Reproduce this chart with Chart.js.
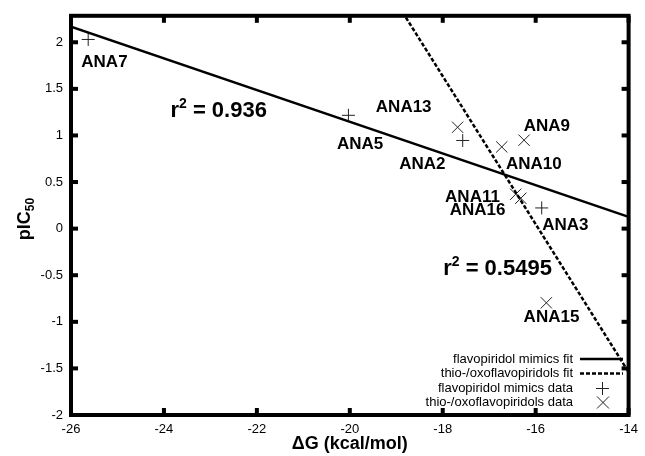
<!DOCTYPE html>
<html>
<head>
<meta charset="utf-8">
<script src="https://cdn.jsdelivr.net/npm/chart.js@4"></script>
<style>
  body { margin: 0; background: #fff; }
</style>
</head>
<body>
<canvas id="chart" width="645" height="456"></canvas>
<script>
// axis ticks
const xTicks = [-26, -24, -22, -20, -18, -16, -14];
const yTicks = [-2, -1.5, -1, -0.5, 0, 0.5, 1, 1.5, 2];

// flavopiridol mimics data (+)
const mimicsX = [-25.63, -20.03, -17.57, -15.87];
const mimicsY = [2.03, 1.216, 0.946, 0.222];

// thio-/oxoflavopiridols data (x)
const thioX = [-17.68, -16.73, -16.25, -16.43, -16.32, -15.77];
const thioY = [1.088, 0.877, 0.949, 0.369, 0.326, -0.796];

// fit lines (end points)
const mimicsFitX = [-26, -14];
const mimicsFitY = [2.167, 0.126];
const thioFitX = [-19, -14];
const thioFitY = [2.43, -1.54];

// compound labels
const labelText = ['ANA7', 'ANA5', 'ANA13', 'ANA2', 'ANA9', 'ANA10', 'ANA11', 'ANA16', 'ANA3', 'ANA15'];
const labelX = [-25.28, -19.78, -18.84, -18.44, -15.76, -16.04, -17.36, -17.25, -15.36, -15.66];
const labelY = [1.79, 0.906, 1.30, 0.69, 1.10, 0.69, 0.34, 0.20, 0.04, -0.95];

// r^2 labels (left aligned)
const r2Text = ['0.936', '0.5495'];
const r2X = [-23.86, -17.99];
const r2Y = [1.28, -0.41];

const legendText = ['flavopiridol mimics fit', 'thio-/oxoflavopiridols fit', 'flavopiridol mimics data', 'thio-/oxoflavopiridols data'];

const FONT = '"Liberation Sans", Arial, Helvetica, sans-serif';

function pts(xs, ys) {
    return xs.map((x, i) => ({ x: x, y: ys[i] }));
}

// everything that is not a dataset: frame, ticks, titles, labels, legend
const decorPlugin = {
    id: 'decor',
    afterDatasetsDraw(chart) {
        const ctx = chart.ctx;
        const a = chart.chartArea;
        const xs = chart.scales.x;
        const ys = chart.scales.y;
        ctx.save();
        ctx.fillStyle = '#000';
        ctx.strokeStyle = '#000';

        // compound labels
        ctx.font = 'bold 17px ' + FONT;
        ctx.textAlign = 'center';
        ctx.textBaseline = 'middle';
        labelText.forEach((t, i) => {
            ctx.fillText(t, xs.getPixelForValue(labelX[i]), ys.getPixelForValue(labelY[i]));
        });

        // r^2 labels
        r2Text.forEach((t, i) => {
            let px = xs.getPixelForValue(r2X[i]);
            const py = ys.getPixelForValue(r2Y[i]) + 8;
            ctx.textAlign = 'left';
            ctx.textBaseline = 'alphabetic';
            ctx.font = 'bold 22px ' + FONT;
            ctx.fillText('r', px, py);
            px += ctx.measureText('r').width;
            ctx.font = 'bold 14px ' + FONT;
            ctx.fillText('2', px, py - 9);
            px += ctx.measureText('2').width;
            ctx.font = 'bold 22px ' + FONT;
            ctx.fillText(' = ' + t, px, py);
        });

        // legend
        ctx.font = '13px ' + FONT;
        ctx.textAlign = 'right';
        ctx.textBaseline = 'middle';
        const rowY = [359, 373.5, 388, 402.5];
        legendText.forEach((t, i) => {
            ctx.fillText(t, 573, rowY[i]);
        });
        ctx.lineWidth = 2.5;
        ctx.beginPath();
        ctx.moveTo(580, rowY[0]);
        ctx.lineTo(623, rowY[0]);
        ctx.stroke();
        ctx.setLineDash([4, 2]);
        ctx.beginPath();
        ctx.moveTo(580, rowY[1]);
        ctx.lineTo(623, rowY[1]);
        ctx.stroke();
        ctx.setLineDash([]);
        ctx.lineWidth = 1;
        ctx.strokeStyle = '#222';
        ctx.beginPath();
        ctx.moveTo(596, rowY[2] + 0.5); ctx.lineTo(609, rowY[2] + 0.5);
        ctx.moveTo(602.5, rowY[2] - 6); ctx.lineTo(602.5, rowY[2] + 7);
        ctx.moveTo(597, rowY[3] - 6); ctx.lineTo(609, rowY[3] + 6);
        ctx.moveTo(609, rowY[3] - 6); ctx.lineTo(597, rowY[3] + 6);
        ctx.stroke();

        // frame
        ctx.strokeStyle = '#000';
        ctx.lineWidth = 4;
        ctx.strokeRect(a.left, a.top, a.right - a.left, a.bottom - a.top);

        // inward tick marks on all four sides
        xTicks.forEach(v => {
            const px = xs.getPixelForValue(v);
            ctx.fillRect(px - 2, a.bottom - 7, 4, 7);
            ctx.fillRect(px - 2, a.top, 4, 7);
        });
        yTicks.forEach(v => {
            const py = ys.getPixelForValue(v);
            ctx.fillRect(a.left, py - 2, 7, 4);
            ctx.fillRect(a.right - 7, py - 2, 7, 4);
        });

        // x title
        ctx.font = 'bold 18px ' + FONT;
        ctx.textAlign = 'center';
        ctx.textBaseline = 'middle';
        ctx.fillText('\u0394G (kcal/mol)', (a.left + a.right) / 2, 444);

        // y title with subscript
        ctx.translate(30, 219);
        ctx.rotate(-Math.PI / 2);
        ctx.font = 'bold 18px ' + FONT;
        const w1 = ctx.measureText('pIC').width;
        ctx.font = 'bold 12px ' + FONT;
        const w2 = ctx.measureText('50').width;
        const start = -(w1 + w2) / 2;
        ctx.textAlign = 'left';
        ctx.textBaseline = 'alphabetic';
        ctx.font = 'bold 18px ' + FONT;
        ctx.fillText('pIC', start, 0);
        ctx.font = 'bold 12px ' + FONT;
        ctx.fillText('50', start + w1, 4);
        ctx.restore();
    }
};

const ctx = document.getElementById('chart').getContext('2d');
const chart = new Chart(ctx, {
    type: 'scatter',
    data: {
        datasets: [{
            label: 'flavopiridol mimics fit',
            data: pts(mimicsFitX, mimicsFitY),
            showLine: true,
            borderColor: '#000',
            borderWidth: 2.5,
            pointRadius: 0
        }, {
            label: 'thio-/oxoflavopiridols fit',
            data: pts(thioFitX, thioFitY),
            showLine: true,
            borderColor: '#000',
            borderWidth: 2.5,
            borderDash: [4, 2],
            pointRadius: 0
        }, {
            label: 'flavopiridol mimics data',
            data: pts(mimicsX, mimicsY),
            pointStyle: 'cross',
            pointRadius: 6.5,
            borderColor: '#222',
            borderWidth: 1
        }, {
            label: 'thio-/oxoflavopiridols data',
            data: pts(thioX, thioY),
            pointStyle: 'crossRot',
            pointRadius: 8,
            borderColor: '#222',
            borderWidth: 1
        }]
    },
    options: {
        responsive: false,
        animation: false,
        maintainAspectRatio: false,
        layout: { padding: { top: 14, right: 9, left: 0, bottom: 0 } },
        plugins: {
            legend: { display: false },
            tooltip: { enabled: false }
        },
        scales: {
            x: {
                type: 'linear',
                min: -26,
                max: -14,
                afterFit: s => { s.height = 41; },
                afterBuildTicks: s => { s.ticks = xTicks.map(v => ({ value: v })); },
                grid: { display: false, drawTicks: false },
                border: { display: false },
                ticks: {
                    padding: 7,
                    autoSkip: false,
                    maxRotation: 0,
                    color: '#000',
                    font: { family: FONT, size: 13 },
                    callback: v => String(v)
                }
            },
            y: {
                type: 'linear',
                min: -2,
                max: 2.284,
                afterFit: s => { s.width = 71; },
                afterBuildTicks: s => { s.ticks = yTicks.map(v => ({ value: v })); },
                grid: { display: false, drawTicks: false },
                border: { display: false },
                ticks: {
                    padding: 8,
                    autoSkip: false,
                    color: '#000',
                    font: { family: FONT, size: 13 },
                    callback: v => String(v)
                }
            }
        }
    },
    plugins: [decorPlugin]
});
</script>
</body>
</html>
